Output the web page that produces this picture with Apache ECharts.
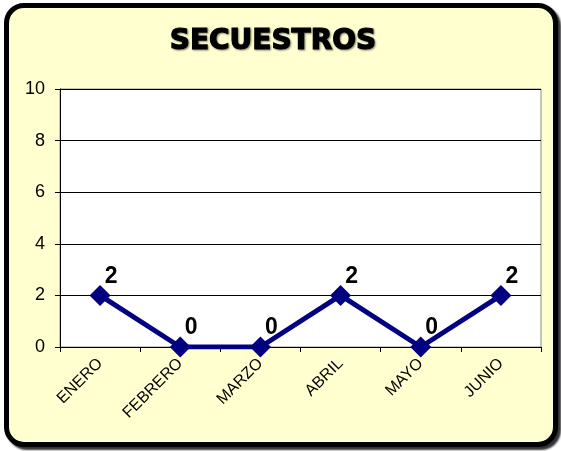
<!doctype html>
<html>
<head>
<meta charset="utf-8">
<title>SECUESTROS</title>
<script src="https://cdn.jsdelivr.net/npm/echarts@6/dist/echarts.min.js"></script>
<style>
	html, body { margin: 0; padding: 0; background: #ffffff; }
	#frame {
		position: absolute; left: 4px; top: 3px; width: 544px; height: 434px;
		border: 5px solid #000; border-radius: 20px; background: #FFFFCF;
		box-shadow: 3px 3px 2px #333;
	}
	#main { position: absolute; left: 0; top: 0; width: 561px; height: 451px; }
</style>
</head>
<body>
<div id="frame"></div>
<div id="main"></div>
<script>
	var meses = ['ENERO', 'FEBRERO', 'MARZO', 'ABRIL', 'MAYO', 'JUNIO'];
	var secuestros = [2, 0, 0, 2, 0, 2];
	var yTicks = [0, 2, 4, 6, 8, 10];

	var chart = echarts.init(document.getElementById('main'), null, { renderer: 'canvas' });
	chart.setOption({
		backgroundColor: 'transparent',
		animation: false,
		title: {
			text: 'SECUESTROS',
			left: 268,
			top: 23,
			textAlign: 'center',
			textStyle: {
				fontFamily: 'DejaVu Sans',
				fontWeight: 'bold',
				fontSize: 28,
				color: '#000',
				textBorderColor: '#000',
				textBorderWidth: 1.2,
				textShadowColor: 'rgba(0,0,0,0.4)',
				textShadowBlur: 2,
				textShadowOffsetX: 1,
				textShadowOffsetY: 1
			}
		},
		grid: {
			left: 60, right: 20, top: 89, bottom: 104,
			show: true,
			backgroundColor: '#ffffff',
			borderColor: '#8c8c8c',
			borderWidth: 1
		},
		xAxis: {
			type: 'category',
			data: meses,
			boundaryGap: true,
			axisLine: { lineStyle: { color: '#000', width: 1 } },
			axisTick: { show: true, length: 5, lineStyle: { color: '#000' } },
			axisLabel: {
				rotate: 45,
				margin: 14,
				fontFamily: 'Liberation Sans',
				fontSize: 16,
				color: '#000'
			}
		},
		yAxis: {
			type: 'value',
			min: yTicks[0],
			max: yTicks[yTicks.length - 1],
			interval: 2,
			axisLine: { show: true, lineStyle: { color: '#000', width: 1 } },
			axisTick: { show: true, length: 5, lineStyle: { color: '#000' } },
			splitLine: { lineStyle: { color: '#000', width: 1 } },
			axisLabel: {
				margin: 15,
				fontFamily: 'Liberation Sans',
				fontSize: 18,
				color: '#000'
			}
		},
		series: [{
			type: 'line',
			data: secuestros,
			symbol: 'diamond',
			symbolSize: 21,
			itemStyle: { color: '#000080' },
			lineStyle: { color: '#000080', width: 5 },
			label: {
				show: true,
				position: 'top',
				offset: [11, 8],
				fontFamily: 'Liberation Sans',
				fontWeight: 'bold',
				fontSize: 23,
				color: '#000'
			}
		}]
	});
</script>
</body>
</html>
